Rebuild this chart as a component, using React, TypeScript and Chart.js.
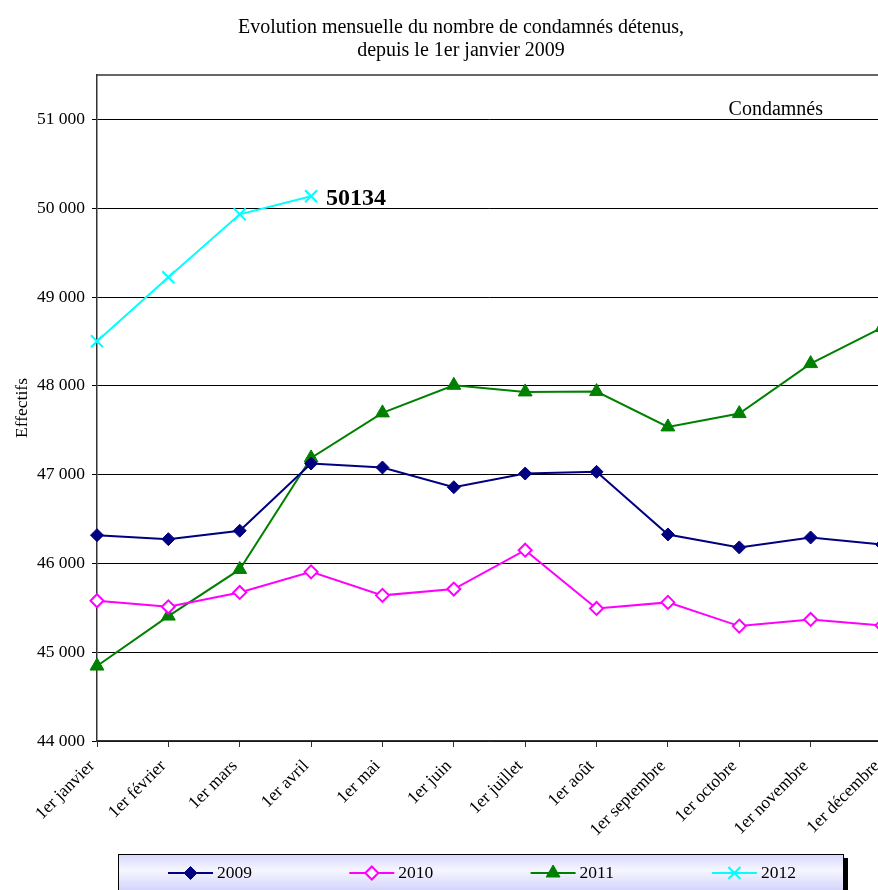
import { useEffect, useRef } from 'react';
import { Chart, registerables } from 'chart.js';

Chart.register(...registerables);

const categories = [
  '1er janvier', '1er février', '1er mars', '1er avril', '1er mai', '1er juin',
  '1er juillet', '1er août', '1er septembre', '1er octobre', '1er novembre', '1er décembre',
];
const seriesLabels = ['2009', '2010', '2011', '2012'];
const values2009 = [46318, 46273, 46368, 47125, 47080, 46858, 47012, 47031, 46326, 46180, 46292, 46212];
const values2010 = [45579, 45511, 45673, 45905, 45640, 45711, 46149, 45493, 45561, 45294, 45369, 45302];
const values2011 = [44844, 45407, 45932, 47188, 47695, 48006, 47931, 47935, 47537, 47687, 48250, 48656];
const values2012 = [48501, 49222, 49931, 50134];
const yTickValues = [44000, 45000, 46000, 47000, 48000, 49000, 50000, 51000];
const yMin = 44000;
const yMax = 51500;
const titleLines = ['Evolution mensuelle du nombre de condamnés détenus,', 'depuis le 1er janvier 2009'];
const yAxisTitle = 'Effectifs';
const boxLabel = 'Condamnés';
const lastValueLabel = '50134';

const SERIF = '"Liberation Serif", "DejaVu Serif", serif';

function fmt(v: number) {
  return String(v).replace(/\B(?=(\d{3})+(?!\d))/g, ' ');
}

function drawMarker(ctx: CanvasRenderingContext2D, style: string, x: number, y: number, r: number, fill: string, stroke: string, lw: number) {
  ctx.save();
  ctx.lineWidth = lw;
  ctx.strokeStyle = stroke;
  ctx.fillStyle = fill;
  ctx.beginPath();
  if (style === 'rectRot') {
    ctx.moveTo(x, y - r);
    ctx.lineTo(x + r, y);
    ctx.lineTo(x, y + r);
    ctx.lineTo(x - r, y);
    ctx.closePath();
    ctx.fill();
    ctx.stroke();
  } else if (style === 'triangle') {
    const h = r * Math.sqrt(3) / 2;
    ctx.moveTo(x, y - r);
    ctx.lineTo(x + h, y + r / 2);
    ctx.lineTo(x - h, y + r / 2);
    ctx.closePath();
    ctx.fill();
    ctx.stroke();
  } else if (style === 'crossRot') {
    const d = r * Math.SQRT1_2;
    ctx.moveTo(x - d, y - d);
    ctx.lineTo(x + d, y + d);
    ctx.moveTo(x + d, y - d);
    ctx.lineTo(x - d, y + d);
    ctx.stroke();
  }
  ctx.restore();
}

const decorPlugin = {
  id: 'decor',
  beforeDatasetsDraw(chart: any) {
    const ctx = chart.ctx as CanvasRenderingContext2D;
    const a = chart.chartArea;
    ctx.save();
    ctx.strokeStyle = '#333';
    ctx.lineWidth = 1.5;
    ctx.beginPath();
    ctx.moveTo(a.left, a.top);
    ctx.lineTo(a.right, a.top);
    ctx.stroke();
    ctx.restore();
  },
  afterDraw(chart: any) {
    const ctx = chart.ctx as CanvasRenderingContext2D;
    const a = chart.chartArea;
    ctx.save();
    // title
    ctx.fillStyle = '#000';
    ctx.font = `20px ${SERIF}`;
    ctx.textAlign = 'center';
    ctx.textBaseline = 'alphabetic';
    ctx.fillText(titleLines[0], 461, 33);
    ctx.fillText(titleLines[1], 461, 55.5);

    // "Condamnés"
    ctx.textAlign = 'right';
    ctx.fillText(boxLabel, a.right - 59, a.top + 40);

    // last value label of 2012
    const meta = chart.getDatasetMeta(3);
    const pt = meta.data[meta.data.length - 1];
    if (pt) {
      ctx.font = `bold 24px ${SERIF}`;
      ctx.textAlign = 'left';
      ctx.textBaseline = 'alphabetic';
      ctx.fillText(lastValueLabel, pt.x + 15, pt.y + 9);
    }

    // legend box
    const bx = 118, by = 854, bw = 725, bh = 46;
    ctx.fillStyle = '#000';
    ctx.fillRect(bx + bw, by + 4, 5, bh);
    const g = ctx.createLinearGradient(0, by, 0, by + bh);
    g.addColorStop(0, '#d6d6ff');
    g.addColorStop(0.35, '#f6f6ff');
    g.addColorStop(1, '#c4c4fa');
    ctx.fillStyle = g;
    ctx.fillRect(bx, by, bw, bh);
    ctx.strokeStyle = '#000';
    ctx.lineWidth = 1;
    ctx.strokeRect(bx + 0.5, by + 0.5, bw, bh);

    const ly = 873;
    chart.data.datasets.forEach((ds: any, i: number) => {
      const x0 = 168 + i * 181.3;
      ctx.strokeStyle = ds.borderColor;
      ctx.lineWidth = 2;
      ctx.beginPath();
      ctx.moveTo(x0, ly);
      ctx.lineTo(x0 + 45, ly);
      ctx.stroke();
      drawMarker(ctx, ds.pointStyle, x0 + 22.5, ly, ds.pointRadius, ds.pointBackgroundColor, ds.pointBorderColor, ds.pointBorderWidth);
      ctx.fillStyle = '#000';
      ctx.font = `17.5px ${SERIF}`;
      ctx.textAlign = 'left';
      ctx.textBaseline = 'middle';
      ctx.fillText(ds.label, x0 + 49, ly);
    });
    ctx.restore();
  },
};

export default function App() {
  const ref = useRef<HTMLCanvasElement | null>(null);

  useEffect(() => {
    if (!ref.current) return;
    const chart = new Chart(ref.current, {
      type: 'line',
      data: {
        labels: categories,
        datasets: [
          {
            label: seriesLabels[0],
            data: values2009,
            borderColor: '#000080',
            backgroundColor: '#000080',
            borderWidth: 2,
            pointStyle: 'rectRot',
            pointRadius: 6.5,
            pointBackgroundColor: '#000080',
            pointBorderColor: '#000080',
            pointBorderWidth: 1,
            tension: 0,
          },
          {
            label: seriesLabels[1],
            data: values2010,
            borderColor: '#ff00ff',
            backgroundColor: '#ffffff',
            borderWidth: 2,
            pointStyle: 'rectRot',
            pointRadius: 6.5,
            pointBackgroundColor: '#ffffff',
            pointBorderColor: '#ff00ff',
            pointBorderWidth: 2,
            tension: 0,
          },
          {
            label: seriesLabels[2],
            data: values2011,
            borderColor: '#008000',
            backgroundColor: '#008000',
            borderWidth: 2,
            pointStyle: 'triangle',
            pointRadius: 8,
            pointBackgroundColor: '#008000',
            pointBorderColor: '#008000',
            pointBorderWidth: 1,
            tension: 0,
          },
          {
            label: seriesLabels[3],
            data: values2012,
            borderColor: '#00ffff',
            backgroundColor: '#00ffff',
            borderWidth: 2,
            pointStyle: 'crossRot',
            pointRadius: 8.5,
            pointBackgroundColor: '#00ffff',
            pointBorderColor: '#00ffff',
            pointBorderWidth: 2,
            tension: 0,
          },
        ] as any,
      },
      options: {
        animation: false,
        responsive: false,
        maintainAspectRatio: false,
        layout: { padding: { top: 75, left: 0, right: 38, bottom: 0 }, autoPadding: false } as any,
        plugins: {
          legend: { display: false },
          title: { display: false },
          tooltip: { enabled: false },
        },
        scales: {
          x: {
            offset: false,
            grid: { display: true, drawOnChartArea: false, drawTicks: true, tickLength: 6, color: '#333' },
            border: { display: true, color: '#333', width: 1.5 },
            ticks: {
              autoSkip: false,
              maxRotation: 45,
              minRotation: 45,
              padding: 9,
              labelOffset: -5,
              color: '#000',
              font: { family: SERIF, size: 17.5 },
            },
            afterFit(scale: any) {
              scale.height = 900 - 741;
            },
          },
          y: {
            min: yMin,
            max: yMax,
            afterBuildTicks(scale: any) {
              scale.ticks = yTickValues.map((v) => ({ value: v }));
            },
            grid: { color: '#000', lineWidth: 1, tickLength: 5, drawTicks: true },
            border: { display: true, color: '#333', width: 1.5 },
            ticks: {
              padding: 7,
              color: '#000',
              font: { family: SERIF, size: 17.5 },
              callback: (v: any) => fmt(Number(v)),
            },
            title: {
              display: true,
              text: yAxisTitle,
              color: '#000',
              font: { family: SERIF, size: 17.5 },
              padding: { top: 12, bottom: 0 },
            },
            afterFit(scale: any) {
              scale.width = 97;
            },
          },
        },
      },
      plugins: [decorPlugin],
    });
    return () => chart.destroy();
  }, []);

  return (
    <div style={{ position: 'fixed', left: 0, top: 0, width: 878, height: 890, overflow: 'hidden', background: '#fff' }}>
      <canvas ref={ref} width={920} height={900} style={{ display: 'block', width: 920, height: 900 }} />
    </div>
  );
}
